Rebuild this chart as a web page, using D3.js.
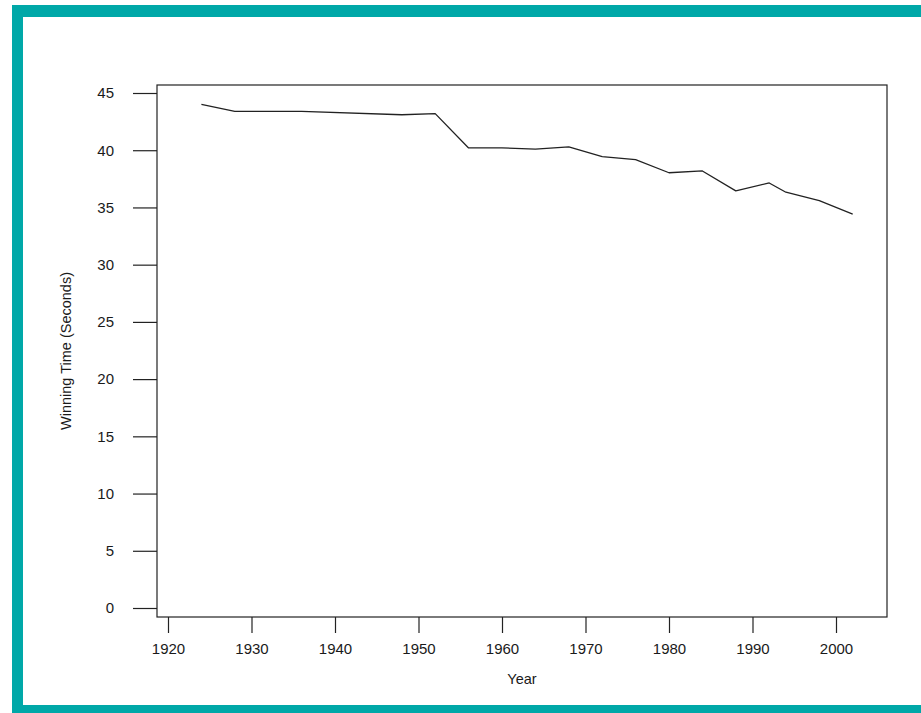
<!DOCTYPE html>
<html>
<head>
<meta charset="utf-8">
<script src="https://cdn.jsdelivr.net/npm/d3@7"></script>
<style>
  html, body { margin: 0; padding: 0; background: #ffffff; }
  svg { display: block; }
  text { font-family: "Liberation Sans", Arial, sans-serif; fill: #1a1a1a; }
</style>
</head>
<body>
<svg id="chart" width="921" height="713"></svg>
<script>
// Olympic winning times by year
const years = [1924, 1928, 1932, 1936, 1948, 1952, 1956, 1960, 1964, 1968, 1972, 1976, 1980, 1984, 1988, 1992, 1994, 1998, 2002];
const times = [44.0, 43.4, 43.4, 43.4, 43.1, 43.2, 40.2, 40.2, 40.1, 40.3, 39.44, 39.17, 38.03, 38.19, 36.45, 37.14, 36.33, 35.59, 34.42];
const xTicks = [1920, 1930, 1940, 1950, 1960, 1970, 1980, 1990, 2000];
const yTicks = [0, 5, 10, 15, 20, 25, 30, 35, 40, 45];

const svg = d3.select("#chart");
const W = 921, H = 713;

// Teal frame around the page
const teal = "#00a8a8";
svg.append("rect").attr("x", 12).attr("y", 5).attr("width", W - 12).attr("height", H - 5).attr("fill", teal);
svg.append("rect").attr("x", 23).attr("y", 17).attr("width", W - 23).attr("height", 705 - 17).attr("fill", "#ffffff");

// Plot box
const box = { left: 157, top: 85, right: 887, bottom: 617 };

const x = d3.scaleLinear().domain([1920, 2000]).range([168, 836]);
const y = d3.scaleLinear().domain([0, 45]).range([608, 93]);

const ink = "#222";
const font = "'Liberation Sans', Arial, sans-serif";

svg.append("rect")
  .attr("x", box.left).attr("y", box.top)
  .attr("width", box.right - box.left).attr("height", box.bottom - box.top)
  .attr("fill", "none").attr("stroke", ink).attr("stroke-width", 1.2);

// Y axis: ticks outside the left edge of the box
const yAxis = d3.axisLeft(y).tickValues(yTicks).tickSize(24).tickPadding(19).tickFormat(d3.format("d"));
const gy = svg.append("g").attr("transform", `translate(${box.left},0)`).call(yAxis);
gy.select(".domain").remove();
gy.selectAll(".tick line").attr("stroke", ink).attr("stroke-width", 1.2);
gy.selectAll(".tick text").attr("font-size", 15).attr("fill", "#1a1a1a").attr("font-family", font);

// X axis: ticks below the bottom edge of the box
const xAxis = d3.axisBottom(x).tickValues(xTicks).tickSize(16).tickPadding(10).tickFormat(d3.format("d"));
const gx = svg.append("g").attr("transform", `translate(0,${box.bottom})`).call(xAxis);
gx.select(".domain").remove();
gx.selectAll(".tick line").attr("stroke", ink).attr("stroke-width", 1.2);
gx.selectAll(".tick text").attr("font-size", 15).attr("fill", "#1a1a1a").attr("font-family", font);

// Axis titles
svg.append("text")
  .attr("x", (box.left + box.right) / 2).attr("y", 684)
  .attr("text-anchor", "middle").attr("font-size", 14.5)
  .text("Year");

svg.append("text")
  .attr("transform", `translate(71,${(box.top + box.bottom) / 2}) rotate(-90)`)
  .attr("text-anchor", "middle").attr("font-size", 14.5)
  .text("Winning Time (Seconds)");

// Data line
const line = d3.line().x((d, i) => x(years[i])).y(d => y(d));
svg.append("path")
  .datum(times)
  .attr("d", line)
  .attr("fill", "none")
  .attr("stroke", ink)
  .attr("stroke-width", 1.3)
  .attr("stroke-linejoin", "round");
</script>
</body>
</html>
